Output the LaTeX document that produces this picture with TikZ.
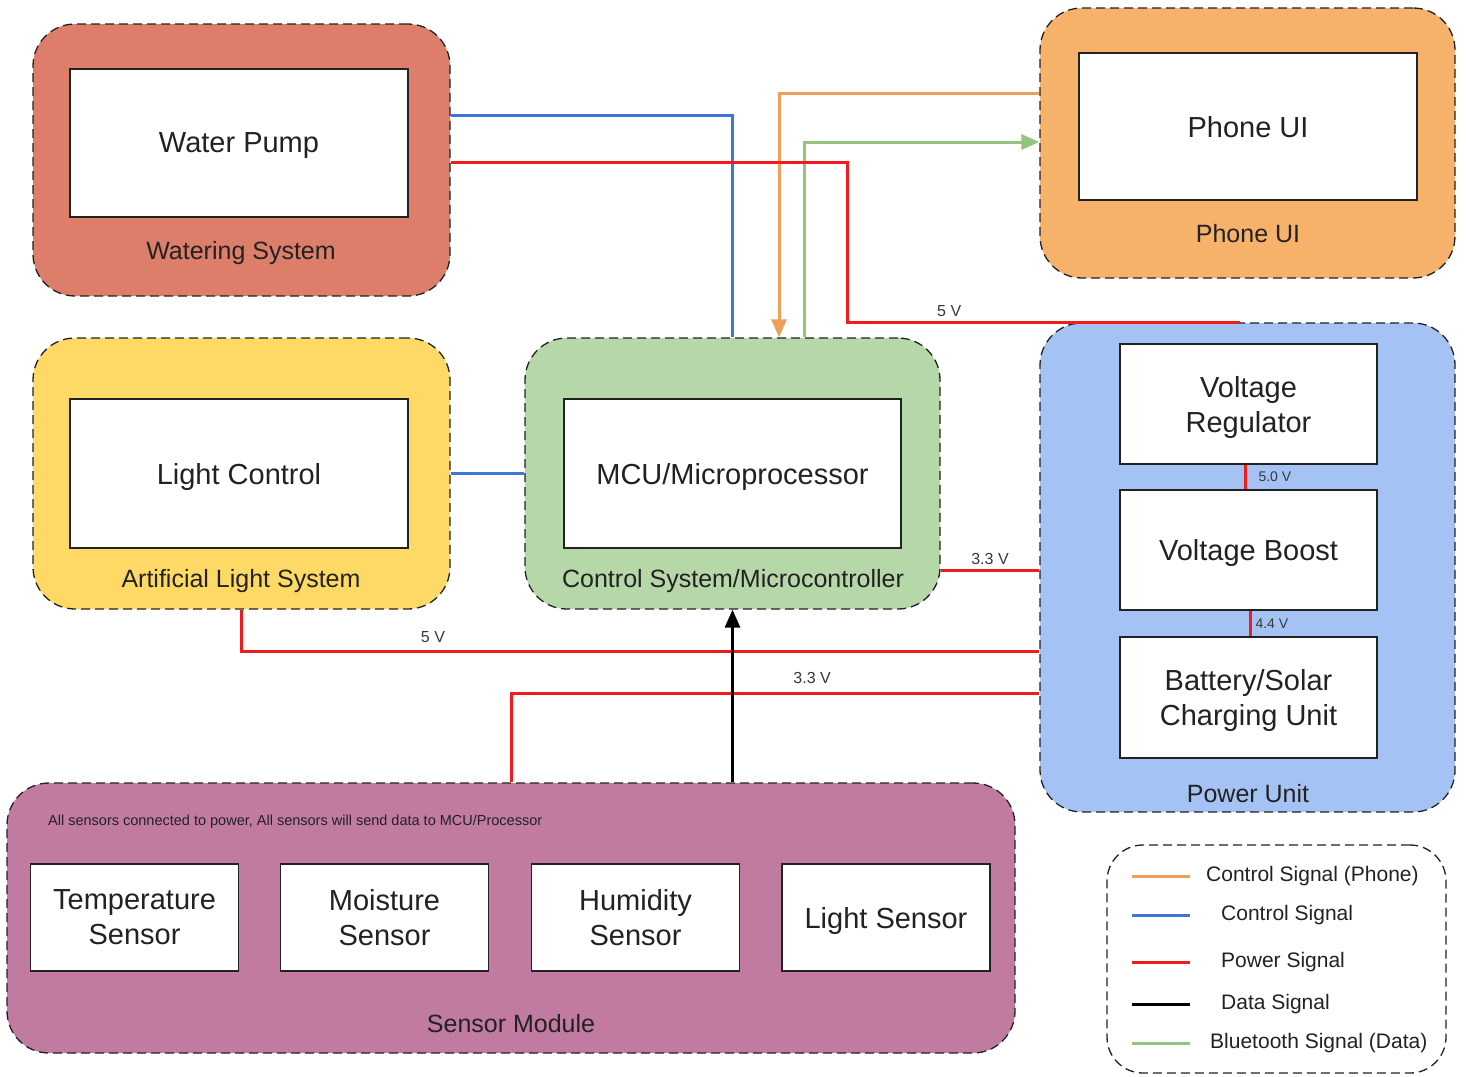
\documentclass[tikz,border=0pt]{standalone}
\usepackage{fontspec}
\setmainfont{Liberation Sans}
\usetikzlibrary{arrows.meta}
\definecolor{waterfill}{HTML}{DD7E6B}
\definecolor{phonefill}{HTML}{F6B26B}
\definecolor{lightfill}{HTML}{FFD966}
\definecolor{mcufill}{HTML}{B6D7A8}
\definecolor{powerfill}{HTML}{A4C2F4}
\definecolor{sensorfill}{HTML}{C27BA0}
\definecolor{ctrlblue}{HTML}{3C78D8}
\definecolor{pwrred}{HTML}{F21B1B}
\definecolor{phoneorange}{HTML}{EDA05A}
\definecolor{btgreen}{HTML}{93C47D}
\definecolor{inkgrey}{HTML}{222222}
\begin{document}
\begin{tikzpicture}[x=1pt, y=-1pt, align=center,
  every node/.style = {inner sep=0pt, align=center, text=inkgrey},
  group/.style = {draw=inkgrey, dash pattern=on 9pt off 5pt,
    line width=1.3pt, rounded corners=42pt},
  unit/.style = {draw=inkgrey, fill=white, line width=1.3pt, text depth=0pt,
    font=\fontsize{29}{35}\selectfont},
  grouplabel/.style = {font=\fontsize{25}{30}\selectfont, text depth=0pt},
  volt/.style = {font=\fontsize{16}{19}\selectfont, text=inkgrey!90},
  wire/.style = {line width=3pt},
  ctrl/.style = {wire, draw=ctrlblue},
  pwr/.style = {wire, draw=pwrred},
  data/.style = {wire, draw=black},
  phonesig/.style = {wire, draw=phoneorange},
  btsig/.style = {wire, draw=btgreen},
  tip/.style = {-{Triangle[length=18pt, width=15pt]}},
  ]
  \useasboundingbox (0,0) rectangle (1466,1076);

  % groups
  \node[group, fill=waterfill, minimum width=417pt, minimum height=272pt] (water) at (241.5,160) {};
  \node[group, fill=phonefill, minimum width=415pt, minimum height=270pt] (phone) at (1247.5,143) {};
  \node[group, fill=lightfill, minimum width=417pt, minimum height=271pt] (light) at (241.5,473.5) {};
  \node[group, fill=mcufill, minimum width=415pt, minimum height=271pt] (mcu) at (732.5,473.5) {};
  \node[group, fill=powerfill, minimum width=415pt, minimum height=489pt] (power) at (1247.5,567.5) {};
  \node[group, fill=sensorfill, minimum width=1008pt, minimum height=270pt] (sensor) at (511,918) {};
  \node[group, fill=white, rounded corners=36pt, minimum width=339pt, minimum height=228pt] (legend) at (1276.5,959) {};

  % units
  \node[unit, minimum width=338pt, minimum height=148pt] (pump) at (239,143) {Water Pump};
  \node[unit, minimum width=338pt, minimum height=147pt] (phoneui) at (1248,126.5) {Phone UI};
  \node[unit, minimum width=338pt, minimum height=149pt] (lightctl) at (239,473.5) {Light Control};
  \node[unit, minimum width=337pt, minimum height=149pt] (micro) at (732.5,473.5) {MCU/Microprocessor};
  \node[unit, minimum width=257pt, minimum height=120pt] (vreg) at (1248.5,404) {Voltage\\Regulator};
  \node[unit, minimum width=257pt, minimum height=120pt] (vboost) at (1248.5,550) {Voltage Boost};
  \node[unit, minimum width=257pt, minimum height=121pt] (batt) at (1248.5,697.5) {Battery/Solar\\Charging Unit};
  \foreach \name/\x/\txt in {temp/134.5/Temperature\\Sensor, moist/384.5/Moisture\\Sensor,
      humid/635.5/Humidity\\Sensor, lsens/886/Light Sensor}
    \node[unit, minimum width=208pt, minimum height=107pt] (\name) at (\x,917.5) {\txt};

  % group labels
  \node[grouplabel] (waterlbl) at (241,250) {Watering System};
  \node[grouplabel] (phonelbl) at (1248,233) {Phone UI};
  \node[grouplabel] (lightlbl) at (241,578) {Artificial Light System};
  \node[grouplabel] (mculbl) at (733,578) {Control System/Microcontroller};
  \node[grouplabel] (powerlbl) at (1248,793) {Power Unit};
  \node[grouplabel] (sensorlbl) at (511,1023) {Sensor Module};
  \node[anchor=west, font=\fontsize{14.5}{17}\selectfont] (note) at (48,822)
    {All sensors connected to power, All sensors will send data to MCU/Processor};

  % connectors
  \draw[ctrl] (water.east |- 0,115) -| (mcu.north);
  \draw[ctrl] (light.east) -- (mcu.west);
  \draw[phonesig, tip] (phone.west |- 0,93) -| (779,0 |- mcu.north);
  \draw[btsig, tip] (804,0 |- mcu.north) |- (phone.west |- 0,142);
  \draw[pwr] (water.east |- 0,162) -- (847,162) |- node[volt, pos=0.63, above=4pt] {5 V} (1240,0 |- power.north);
  \draw[pwr] (mcu.east |- 0,570) -- node[volt, above=4pt] {3.3 V} (power.west |- 0,570);
  \draw[pwr] (light.south) |- node[volt, pos=0.62, above=7pt] {5 V} (power.west |- 0,651);
  \draw[pwr] (sensor.north) |- node[volt, pos=0.785, above=8pt] {3.3 V} (power.west |- 0,693);
  \draw[data, tip] (sensor.north -| mcu.south) -- (mcu.south);
  \draw[pwr] (vreg.south -| 1245,0) -- node[volt, anchor=west, xshift=12pt, font=\fontsize{14}{17}\selectfont] {5.0 V} (vboost.north -| 1245,0);
  \draw[pwr] (vboost.south -| 1250,0) -- node[volt, anchor=west, xshift=4pt, font=\fontsize{14}{17}\selectfont] {4.4 V} (batt.north -| 1250,0);

  % legend
  \foreach \y/\sty/\x/\txt in {876/phonesig/1206/Control Signal (Phone), 915/ctrl/1221/Control Signal,
      962/pwr/1221/Power Signal, 1004/data/1221/Data Signal, 1043/btsig/1210/Bluetooth Signal (Data)} {
    \draw[\sty] (1132,\y) -- (1190,\y);
    \node[anchor=west, font=\fontsize{21}{25}\selectfont] at (\x,\y) {\txt};
  }
\end{tikzpicture}
\end{document}
